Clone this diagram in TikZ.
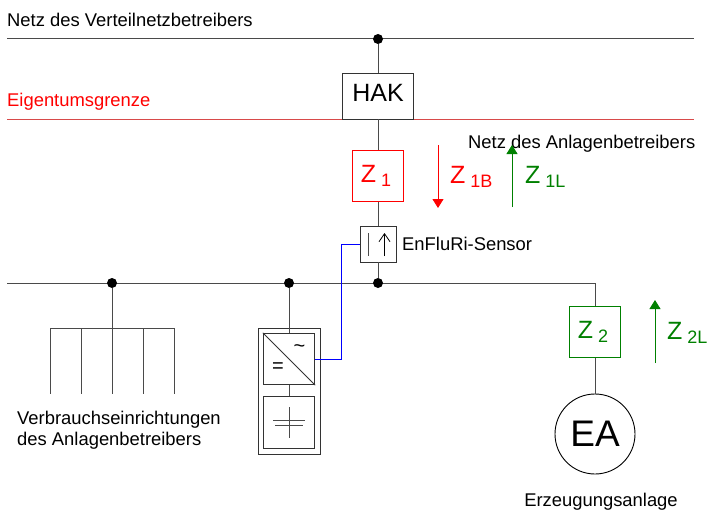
\documentclass[tikz,border=0pt]{standalone}
\usepackage{fontspec}
\setmainfont{Liberation Sans}
\usetikzlibrary{arrows.meta}
\definecolor{linegrey}{HTML}{4A4A4A}
\definecolor{zred}{HTML}{FF0000}
\definecolor{zgreen}{HTML}{008000}
\definecolor{grenzred}{HTML}{D84A4A}
\newcommand{\zlabel}[1]{\fontsize{25}{25}\selectfont Z\hspace{5pt}\raisebox{-4.5pt}{\fontsize{18}{18}\selectfont #1}}
\tikzset{
  wire/.style = {draw = linegrey, line width = 1pt},
  busdot/.style = {circle, fill = black, inner sep = 0pt, minimum size = 10pt},
  unitbox/.style = {draw = black!80, line width = 0.9pt, inner sep = 0pt, minimum width = 51.5pt, minimum height = 51.5pt},
  metered/.style = {unitbox, draw = #1, text = #1},
  flowarrow/.style = {draw = #1, line width = 0.8pt, -{Triangle[length = 9pt, width = 11pt, fill = #1]}},
  caption/.style = {inner sep = 0pt, font = \fontsize{18.4}{21}\selectfont}
}
\begin{document}
\begin{tikzpicture}[x = 1pt, y = -1pt]
\useasboundingbox (0, 0) rectangle (707, 511);
\node[caption, anchor = west] (netzvnb) at (7, 20) {Netz des Verteilnetzbetreibers};
\node[caption, anchor = west, text = zred] (grenze) at (7, 102) {Eigentumsgrenze};
\node[caption, anchor = west] (netzab) at (468, 143.5) {Netz des Anlagenbetreibers};
\node[caption, anchor = west] (sensortext) at (402, 244) {EnFluRi-Sensor};
\node[caption, anchor = north west, align = left] (verbraucher) at (17, 411) {Verbrauchseinrichtungen\\des Anlagenbetreibers};
\node[caption, anchor = center] (eatext) at (601, 501.5) {Erzeugungsanlage};

\coordinate (netzL) at (7, 39);
\coordinate (netzR) at (694, 39);
\coordinate (grenzeL) at (7, 119);
\coordinate (grenzeR) at (694, 119);
\coordinate (busL) at (7, 283);
\coordinate (busR) at (595, 283);
\draw[wire] (netzL) -- (netzR);
\draw[draw = grenzred, line width = 0.7pt] (grenzeL) -- (grenzeR);
\draw[wire] (busL) -- (busR);

\node[busdot] (dotnetz) at (378, 39) {};
\node[busdot] (dotlast) at (112, 283) {};
\node[busdot] (dotwr) at (289, 283) {};
\node[busdot] (dotsensor) at (378, 283) {};

\node[unitbox, fill = white, minimum width = 71pt, minimum height = 46pt, font = \fontsize{25}{25}\selectfont, text = black] (hak) at (378, 96) {\raisebox{7pt}{HAK}};
\node[metered = zred] (zeins) at (378, 176) {\hspace{-4pt}\zlabel{1}};
\node[unitbox, minimum width = 36pt, minimum height = 36pt] (sensor) at (378, 244) {};
\node[metered = zgreen] (zzwei) at (595, 332) {\hspace{-4pt}\zlabel{2}};
\node[circle, draw = black, line width = 0.9pt, inner sep = 0pt, minimum size = 80pt, font = \fontsize{37}{37}\selectfont] (ea) at (595, 434) {EA};

\draw[wire] (dotnetz) -- (hak);
\draw[wire] (hak) -- (zeins);
\draw[wire] (zeins) -- (sensor);
\draw[wire] (sensor) -- (dotsensor);
\draw[wire] (busR) -- (zzwei);
\draw[wire] (zzwei) -- (ea);

\coordinate (sensorbarT) at (368, 233);
\coordinate (sensorbarB) at (368, 256);
\coordinate (sensorpfeilT) at (384.5, 233);
\coordinate (sensorpfeilB) at (384.5, 256);
\draw[wire] (sensorbarT) -- (sensorbarB);
\draw[draw = black, line width = 0.8pt, -{Straight Barb[length = 8pt, width = 11pt]}] (sensorpfeilB) -- (sensorpfeilT);

\coordinate (zbT) at (438, 145);
\coordinate (zbB) at (438, 208);
\coordinate (zlB) at (512, 207);
\coordinate (zlT) at (512, 145);
\coordinate (zzlB) at (655, 363);
\coordinate (zzlT) at (655, 300);
\draw[flowarrow = zred] (zbT) -- (zbB);
\draw[flowarrow = zgreen] (zlB) -- (zlT);
\draw[flowarrow = zgreen] (zzlB) -- (zzlT);
\node[anchor = west, inner sep = 0pt, text = zred] (zeinsb) at (450, 177) {\zlabel{1B}};
\node[anchor = west, inner sep = 0pt, text = zgreen] (zeinsl) at (525, 177) {\zlabel{1L}};
\node[anchor = west, inner sep = 0pt, text = zgreen] (zzweil) at (667, 333) {\zlabel{2L}};

\coordinate (lastT) at (112, 328);
\coordinate (lastA) at (50, 328);
\coordinate (lastB) at (81, 328);
\coordinate (lastD) at (143, 328);
\coordinate (lastE) at (174, 328);
\coordinate (lastAe) at (50, 394);
\coordinate (lastBe) at (81, 394);
\coordinate (lastCe) at (112, 394);
\coordinate (lastDe) at (143, 394);
\coordinate (lastEe) at (174, 394);
\draw[wire] (dotlast) -- (lastT);
\draw[wire] (lastA) -- (lastE);
\draw[wire] (lastA) -- (lastAe);
\draw[wire] (lastB) -- (lastBe);
\draw[wire] (lastT) -- (lastCe);
\draw[wire] (lastD) -- (lastDe);
\draw[wire] (lastE) -- (lastEe);

\node[draw = black!80, line width = 0.9pt, inner sep = 0pt, minimum width = 62pt, minimum height = 126pt] (wrgehaeuse) at (289, 391) {};
\node[unitbox] (wr) at (289, 359) {};
\node[unitbox] (speicher) at (289, 422.5) {};
\draw[wire] (dotwr) -- (wr);
\draw[wire] (wr) -- (speicher);
\draw[draw = black!80, line width = 0.8pt] (wr.north west) -- (wr.south east);
\node[inner sep = 0pt, font = \fontsize{20}{20}\selectfont] (wrac) at (299.5, 349) {\char"007E};
\node[inner sep = 0pt, font = \fontsize{20}{20}\selectfont] (wrdc) at (278, 368) {=};

\coordinate (kondT) at (289, 407);
\coordinate (kondB) at (289, 438);
\coordinate (platteAL) at (273, 420);
\coordinate (platteAR) at (305, 420);
\coordinate (platteBL) at (275, 425);
\coordinate (platteBR) at (303, 425);
\draw[wire] (kondT) -- (kondB);
\draw[wire] (platteAL) -- (platteAR);
\draw[wire] (platteBL) -- (platteBR);

\coordinate (blauA) at (341.5, 359);
\coordinate (blauB) at (341.5, 244);
\draw[draw = blue, line width = 1pt] (wr.east) -- (blauA) -- (blauB) -- (sensor.west);
\end{tikzpicture}
\end{document}
